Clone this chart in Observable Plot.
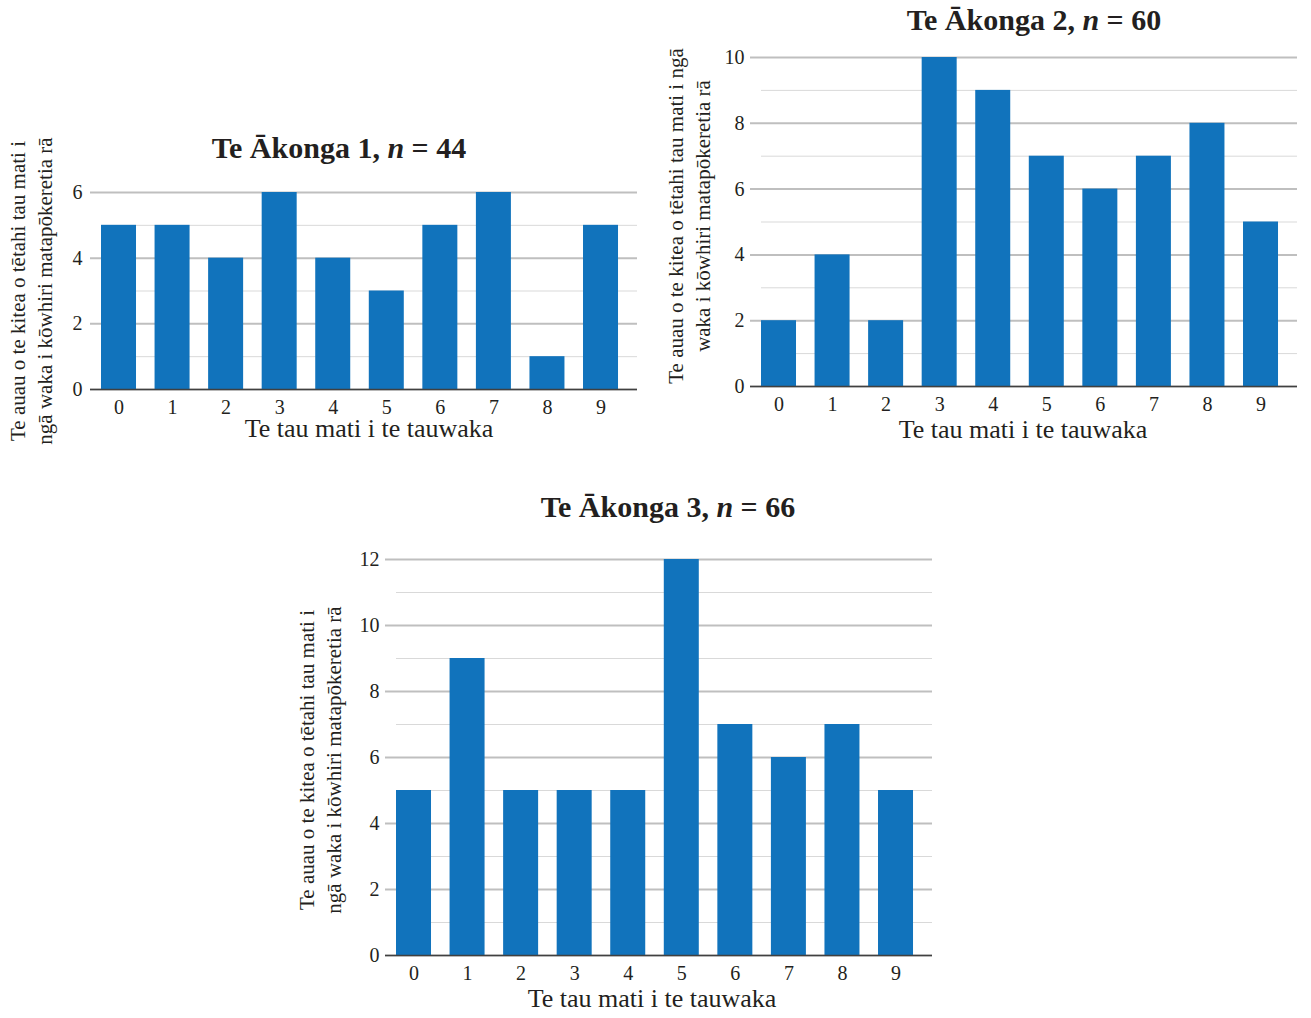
<!DOCTYPE html>
<html><head><meta charset="utf-8">
<script src="https://cdn.jsdelivr.net/npm/d3@7"></script>
<script src="https://cdn.jsdelivr.net/npm/@observablehq/plot@0.6"></script>
<style>
body{margin:0;background:#fff;}
#root{position:relative;width:1311px;height:1018px;overflow:hidden;font-family:"Liberation Serif","Times New Roman",serif;color:#231f20;}
.chart{position:absolute;}
.title{position:absolute;font-weight:bold;font-size:30px;line-height:30px;white-space:nowrap;transform:translateX(-50%);}
.xt{position:absolute;font-size:26px;line-height:16px;white-space:nowrap;transform:translateX(-50%);}
.yt{position:absolute;font-size:21px;line-height:27px;white-space:nowrap;text-align:center;transform:translate(-50%,-50%) rotate(-90deg);}
</style></head><body><div id="root"></div>
<script>
const digits = ["0","1","2","3","4","5","6","7","8","9"];
const counts1 = [5,5,4,6,4,3,5,6,1,5];
const counts2 = [2,4,2,10,9,7,6,7,8,5];
const counts3 = [5,9,5,5,5,12,7,6,7,5];
const chartTitles = [
  'Te Ākonga 1, <i>n</i> = 44',
  'Te Ākonga 2, <i>n</i> = 60',
  'Te Ākonga 3, <i>n</i> = 66'
];
const xTitle = "Te tau mati i te tauwaka";
const yTitles = [
  ["Te auau o te kitea o tētahi tau mati i", "ngā waka i kōwhiri matapōkeretia rā"],
  ["Te auau o te kitea o tētahi tau mati i ngā", "waka i kōwhiri matapōkeretia rā"],
  ["Te auau o te kitea o tētahi tau mati i", "ngā waka i kōwhiri matapōkeretia rā"]
];
const yMaxes = [6, 10, 12];

const root = document.getElementById("root");

function makeChart(counts, yMax, cfg) {
  const data = digits.map((d, i) => ({digit: d, count: counts[i]}));
  const majors = d3.range(0, yMax + 1, 2);
  const minors = d3.range(1, yMax, 2);
  return Plot.plot({
    width: cfg.width, height: cfg.height,
    marginLeft: 90, marginRight: cfg.mr, marginTop: cfg.mt, marginBottom: cfg.mb,
    style: {fontFamily: '"Liberation Serif", "Times New Roman", serif', fontSize: "20px", color: "#231f20", background: "transparent", overflow: "visible"},
    x: {type: "band", domain: digits, paddingInner: 0.3465, paddingOuter: 0.28, align: 0.367, round: false, label: null},
    y: {domain: [0, yMax], label: null},
    marks: [
      Plot.ruleY(minors, {stroke: "#d9d9d9", strokeWidth: 1, insetLeft: 11}),
      Plot.ruleY(majors, {stroke: "#bfbfbf", strokeWidth: 2}),
      Plot.barY(data, {x: "digit", y: "count", fill: "#1173bc"}),
      Plot.ruleY([0], {stroke: "#404040", strokeWidth: 1.5}),
      Plot.axisX({tickSize: 0, tickPadding: 10, label: null}),
      Plot.axisY({ticks: majors, tickSize: 0, tickPadding: cfg.tp, tickFormat: d => String(d), label: null})
    ]
  });
}

const layouts = [
  {left: 0, top: 100, width: 660, height: 360, mr: 23, mt: 92, mb: 71, tp: 8,
   title: [339, 133], xt: [369, 421], yt: [31.5, 291]},
  {left: 660, top: 0, width: 651, height: 460, mr: 14, mt: 57, mb: 74, tp: 6,
   title: [1034, 5], xt: [1023, 422], yt: [689.5, 216]},
  {left: 295, top: 530, width: 660, height: 488, mr: 23, mt: 29, mb: 63, tp: 6,
   title: [668, 492], xt: [652, 991], yt: [320.5, 760]}
];
const allCounts = [counts1, counts2, counts3];

layouts.forEach((L, i) => {
  const wrap = document.createElement("div");
  wrap.className = "chart";
  wrap.style.left = L.left + "px";
  wrap.style.top = L.top + "px";
  wrap.appendChild(makeChart(allCounts[i], yMaxes[i], L));
  root.appendChild(wrap);

  const t = document.createElement("div");
  t.className = "title";
  t.innerHTML = chartTitles[i];
  t.style.left = L.title[0] + "px";
  t.style.top = L.title[1] + "px";
  root.appendChild(t);

  const xt = document.createElement("div");
  xt.className = "xt";
  xt.textContent = xTitle;
  xt.style.left = L.xt[0] + "px";
  xt.style.top = L.xt[1] + "px";
  root.appendChild(xt);

  const yt = document.createElement("div");
  yt.className = "yt";
  yt.innerHTML = yTitles[i][0] + "<br>" + yTitles[i][1];
  yt.style.left = L.yt[0] + "px";
  yt.style.top = L.yt[1] + "px";
  root.appendChild(yt);
});
</script>
</body></html>
